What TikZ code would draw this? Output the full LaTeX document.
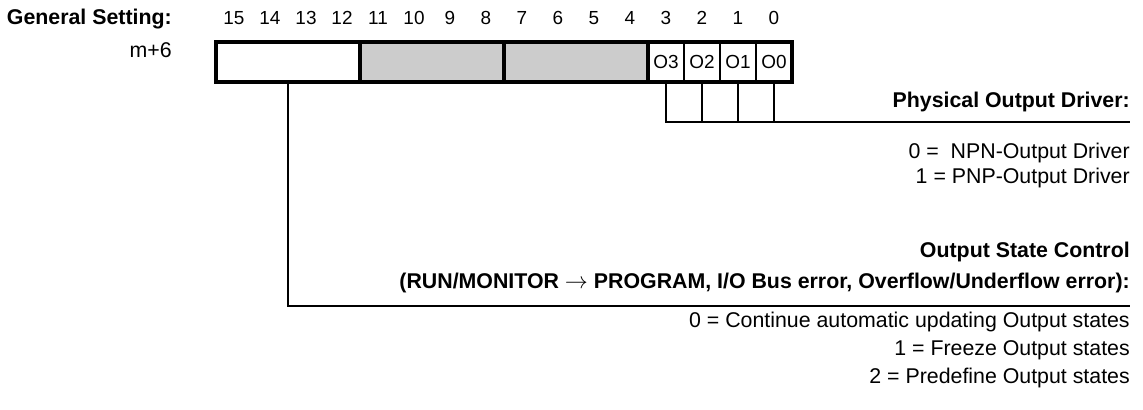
\documentclass[tikz,border=0pt]{standalone}
\usepackage{fontspec}
\setmainfont{Liberation Sans}
\usepackage{tikz}
\usetikzlibrary{positioning,calc}
\definecolor{blackmain}{HTML}{000000}
\definecolor{grayfield}{HTML}{CCCCCC}
\newcommand{\regfont}{\fontsize{16}{19}\selectfont}
\newcommand{\bitfont}{\fontsize{14.2}{17}\selectfont}
\tikzset{every node/.append style={font=\regfont}}

\begin{document}
\begin{tikzpicture}[x=.75pt,y=-.75pt,
  field/.style={draw=blackmain,line width=3pt,minimum width=108pt,minimum height=30pt,inner sep=0pt,outer sep=0pt},
  ocell/.style={draw=blackmain,line width=1.1pt,minimum width=27pt,minimum height=30pt,inner sep=0pt,outer sep=0pt,font=\bitfont},
  link/.style={draw=blackmain,line width=1.5pt},
  rlabel/.style={anchor=base east,inner sep=0pt},
  rhead/.style={rlabel,font=\regfont\bfseries}]
\useasboundingbox (0,0) rectangle (1143,410);
\node[rhead] (gset) at (172,25) {General Setting:};
\node[rlabel] (word) at (172,58) {m+6};
\foreach \b in {0,...,15}
  \node[anchor=base,inner sep=0pt,font=\bitfont] (n\b) at ({774-36*\b},25) {\b};
% register fields
\node[field,anchor=north west] (f15) at (216,42) {};
\node[field,fill=grayfield,right=0pt of f15] (f11) {};
\node[field,fill=grayfield,right=0pt of f11] (f7) {};
\node[ocell,right=0pt of f7] (o3) {O3};
\node[ocell,right=0pt of o3] (o2) {O2};
\node[ocell,right=0pt of o2] (o1) {O1};
\node[ocell,right=0pt of o1] (o0) {O0};
\draw[line width=3pt,blackmain] (f15.north west) rectangle (o0.south east);
% physical output driver
\coordinate (drvend) at (1130,122);
\draw[link] (o3.south) |- (drvend);
\foreach \c in {o2,o1,o0}
  \draw[link] (\c.south) -- (\c.south |- drvend);
\node[rhead] (drv) at (1130,108) {Physical Output Driver:};
\node[rlabel] (npn) at (1130,158) {0 = \ NPN-Output Driver};
\node[rlabel] (pnp) at (1130,183) {1 = PNP-Output Driver};
% output state control
\coordinate (ctlend) at (1130,306);
\draw[link] (f15.south) |- (ctlend);
\node[rhead] (ctl) at (1130,257) {Output State Control};
\node[rhead] (ctlx) at (1130,288) {(RUN/MONITOR $\rightarrow$ PROGRAM, I/O Bus error, Overflow/Underflow error):};
\node[rlabel] (cont) at (1130,327) {0 = Continue automatic updating Output states};
\node[rlabel] (frz) at (1130,355) {1 = Freeze Output states};
\node[rlabel] (pre) at (1130,383) {2 = Predefine Output states};
\end{tikzpicture}
\end{document}
